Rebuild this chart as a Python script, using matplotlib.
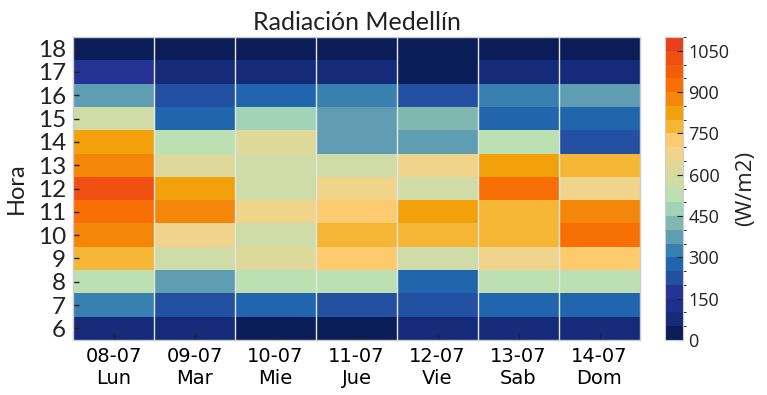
import numpy as np
import matplotlib
matplotlib.use("Agg")
import matplotlib.pyplot as plt
from matplotlib.colors import ListedColormap, BoundaryNorm

days = ["08-07\nLun", "09-07\nMar", "10-07\nMie", "11-07\nJue", "12-07\nVie", "13-07\nSab", "14-07\nDom"]
hours = list(range(6, 19))

# radiation values (W/m2), one list per day, hours 6..18
lun = [75, 325, 525, 775, 875, 925, 1010, 875, 825, 575, 375, 175, 25]
mar = [75, 225, 375, 575, 675, 875, 825, 625, 525, 275, 225, 75, 25]
mie = [25, 275, 525, 625, 575, 675, 575, 575, 625, 475, 275, 75, 25]
jue = [25, 225, 525, 725, 775, 725, 675, 575, 375, 375, 325, 75, 25]
vie = [75, 225, 275, 575, 775, 825, 575, 675, 375, 425, 225, 25, 25]
sab = [75, 275, 525, 675, 775, 775, 925, 825, 525, 275, 325, 75, 25]
dom = [75, 275, 525, 725, 925, 875, 675, 775, 225, 275, 375, 75, 25]

cb_ticks = [0, 150, 300, 450, 600, 750, 900, 1050]

colors = ['#0a1d58', '#152a78', '#1e3088', '#253494', '#2350a0', '#2166ac',
          '#3880b0', '#5f9eb2', '#80b8b0', '#a0d3b8', '#bde0b2', '#cfdca8',
          '#ded99a', '#f0d48c', '#fdcb6e', '#f5b535', '#f2a10b', '#f4860a',
          '#f76f05', '#f35d0a', '#ef4f10', '#e8401c']
cmap = ListedColormap(colors)
bounds = np.arange(0, 1101, 50)
norm = BoundaryNorm(bounds, cmap.N)

data = np.array([lun, mar, mie, jue, vie, sab, dom]).T  # rows = hours

fig = plt.figure(figsize=(7.67, 3.95), dpi=100)
ax = fig.add_axes([73/767, 55/395, 567/767, 303/395])
xe = np.arange(len(days) + 1)
ye = np.arange(hours[0] - 0.5, hours[-1] + 1.5)
ax.pcolormesh(xe, ye, data, cmap=cmap, norm=norm)
for x in xe[1:-1]:
    ax.axvline(x, color='#e6e6e6', lw=1.0)
ax.set_xlim(0, len(days))
ax.set_ylim(ye[0], ye[-1])
ax.set_xticks(np.arange(len(days)) + 0.5)
ax.set_xticklabels(days)
for t in ax.get_xticklabels():
    t.set_fontfamily(['DejaVu Sans'])
    t.set_fontsize(14)
    t.set_color('#000000')
ax.set_yticks(hours)
ax.set_yticklabels([str(h) for h in hours])
for t in ax.get_yticklabels():
    t.set_fontfamily('Lato')
    t.set_fontsize(17.5)
    t.set_color('#222222')
ax.tick_params(axis='both', direction='in', length=4, color='#222222', width=1)
ax.tick_params(axis='y', pad=5)
ax.tick_params(axis='x', pad=5)
for s in ax.spines.values():
    s.set_color('#cccccc')
    s.set_linewidth(1)
ax.set_ylabel('Hora', fontsize=17, family='Lato', color='#222222', labelpad=8)
ax.set_title('Radiación Medellín', fontsize=18, family='Lato', color='#222222', pad=5)

cax = fig.add_axes([665/767, 55/395, 18/767, 303/395])
sm = matplotlib.cm.ScalarMappable(cmap=cmap, norm=norm)
cb = fig.colorbar(sm, cax=cax, boundaries=bounds, ticks=cb_ticks)
cb.outline.set_edgecolor('#cccccc')
cb.ax.tick_params(direction='in', length=4, color='#222222', labelsize=13, pad=4)
for t in cb.ax.get_yticklabels():
    t.set_fontfamily('Open Sans')
    t.set_color('#222222')
cb.set_label('(W/m2)', fontsize=16, family='Open Sans', color='#222222', labelpad=4)

fig.savefig('out.png', dpi=100)
